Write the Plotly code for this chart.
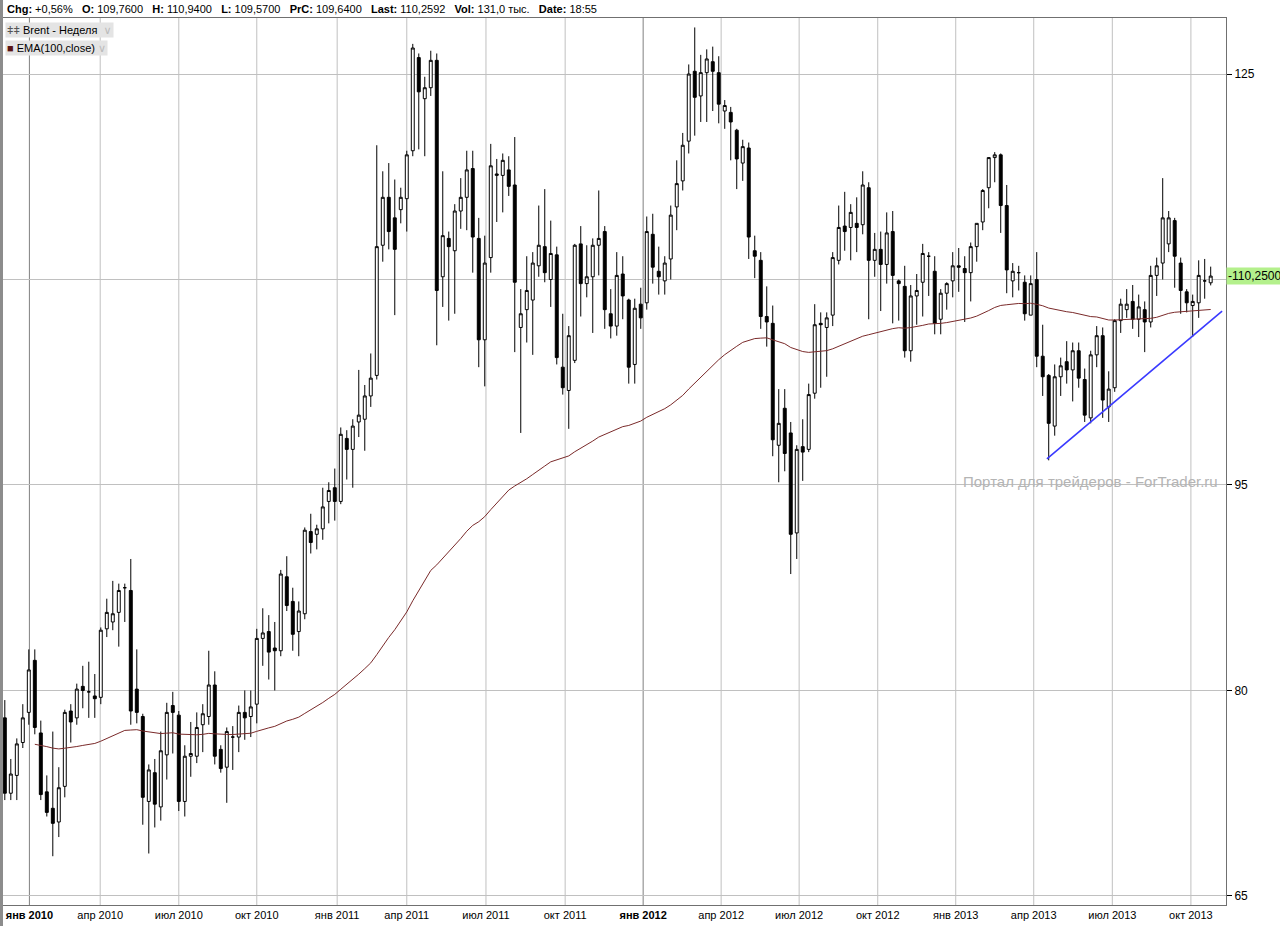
import plotly.graph_objects as go

opens = [78.0,72.5,73.8,76.2,78.4,82.2,76.9,72.6,71.4,70.4,
73.0,78.5,78.0,80.3,79.9,79.6,79.5,84.5,85.0,85.7,
87.5,87.3,80.1,78.1,71.9,74.0,71.5,75.3,78.9,78.2,
71.9,75.2,75.2,77.5,78.1,80.4,75.7,74.4,76.6,76.6,
78.4,78.1,79.0,83.8,84.3,83.1,82.9,88.3,86.5,84.3,
85.6,91.6,91.4,91.8,93.8,94.8,93.8,98.4,97.6,99.6,
99.8,101.5,103.0,112.5,116.0,114.5,115.1,115.9,119.4,126.2,
123.2,124.0,126.0,110.2,113.0,112.1,115.0,116.0,118.1,113.0,
105.6,111.6,117.6,117.6,118.0,116.9,106.5,107.8,108.5,111.0,
112.4,110.0,111.8,103.6,101.9,104.1,112.6,109.7,110.2,112.5,
113.5,107.5,106.6,110.4,108.5,103.8,108.2,108.3,113.3,110.6,
109.9,111.5,115.3,117.2,120.1,125.2,123.4,125.1,125.9,125.1,
122.3,122.2,120.9,118.5,119.6,112.1,111.4,107.3,106.8,97.9,
100.6,98.8,91.5,97.8,97.6,101.7,106.8,106.5,107.4,111.4,
113.9,113.8,114.1,114.0,116.7,111.4,112.2,111.1,113.5,109.9,
109.5,104.8,108.8,109.8,111.7,110.6,107.1,109.0,109.9,111.0,
110.8,110.5,112.4,114.2,116.7,118.9,119.1,115.4,109.9,110.5,
109.8,107.4,110.0,104.4,103.0,99.3,102.9,104.0,103.4,104.8,
102.7,99.9,104.5,105.9,100.7,102.1,107.0,107.8,108.4,107.1,
107.8,106.9,110.3,111.2,112.6,114.3,111.2,109.1,108.1,108.3,
109.9,109.76]

closes = [72.5,73.9,76.1,78.0,81.5,77.3,72.4,71.1,70.3,72.9,
78.4,77.7,80.1,80.0,79.9,79.4,84.4,85.7,85.6,87.3,
87.5,78.5,78.4,72.2,74.2,71.7,75.6,78.4,78.4,71.9,
75.2,75.4,77.3,78.3,80.4,75.2,74.3,77.0,76.6,78.4,
78.0,78.8,83.8,84.2,82.8,82.9,88.5,86.2,84.1,85.8,
91.7,90.8,91.8,93.4,94.6,93.8,98.7,97.6,99.3,100.1,
101.5,102.8,112.4,116.0,113.5,112.2,116.0,119.1,126.9,123.7,
124.0,126.0,109.2,113.2,112.4,115.0,116.0,118.0,113.1,105.6,
111.2,118.3,117.7,118.7,116.8,109.8,107.5,109.2,111.2,112.5,
110.5,111.9,104.3,102.1,105.9,112.5,109.7,110.2,112.5,113.0,
107.8,106.6,110.3,108.8,103.6,107.9,107.2,113.5,110.9,110.2,
111.2,114.7,117.0,119.8,125.0,123.3,125.1,126.1,125.2,122.8,
122.7,121.5,118.8,119.7,113.1,111.7,107.3,106.9,98.3,99.5,
97.3,91.4,97.6,97.4,101.6,106.7,106.7,107.2,111.6,113.8,
113.5,114.9,113.8,116.9,111.4,112.2,111.1,113.4,110.3,109.7,
104.8,108.8,109.2,111.9,111.7,106.8,109.0,109.7,111.0,110.9,
110.5,112.4,114.1,116.5,118.9,119.1,115.4,110.7,110.6,110.5,
107.5,109.7,104.4,102.9,99.5,102.9,103.7,103.4,104.8,102.8,
100.1,104.5,105.9,101.2,102.0,107.0,108.2,108.2,107.1,108.0,
106.9,110.3,111.0,114.5,114.5,111.7,109.2,108.3,108.4,110.3,
109.9,110.25]

highs = [79.3,75.0,76.5,79.0,83.0,83.0,77.8,73.8,77.0,74.4,
78.6,79.0,80.5,81.8,82.1,81.2,84.6,86.7,88.0,87.8,
87.8,89.6,83.0,78.3,74.6,75.0,77.0,79.1,79.9,78.5,
76.0,77.7,78.4,79.0,82.9,81.4,76.0,77.3,77.4,78.9,
80.0,80.0,84.5,86.0,85.5,85.0,88.8,89.8,87.5,86.5,
91.9,92.9,92.1,94.8,95.2,96.2,99.2,99.0,99.8,103.4,
102.3,104.6,119.8,117.9,118.5,117.3,116.7,119.4,127.2,126.5,
124.8,126.7,126.5,117.9,113.5,115.5,117.4,119.4,119.4,114.5,
113.2,119.9,118.8,119.2,119.0,120.4,109.3,111.7,112.0,115.4,
116.6,114.3,112.4,107.5,106.6,112.6,113.9,112.5,113.0,116.5,
113.9,109.3,112.0,111.7,108.6,108.6,109.4,114.6,114.8,112.4,
111.7,115.4,118.7,120.7,125.7,128.4,126.4,126.8,127.0,126.3,
123.1,122.6,121.0,120.2,120.0,113.2,112.0,109.5,108.1,102.0,
102.0,99.6,97.9,99.8,102.4,108.2,107.6,107.6,112.0,115.4,
116.4,115.5,116.0,117.9,117.1,113.4,113.5,114.9,115.0,110.0,
111.0,109.6,110.4,112.6,112.0,111.7,109.3,109.8,112.0,112.3,
111.7,112.7,114.1,116.6,118.9,119.3,119.2,116.9,111.2,111.0,
110.3,110.3,112.0,106.7,103.1,103.8,104.3,105.5,105.4,105.4,
103.5,104.8,106.6,106.5,103.3,107.1,108.6,109.3,109.6,108.9,
108.4,111.0,111.6,117.4,115.0,114.5,111.6,109.3,108.9,111.4,
111.5,110.94]

lows = [72.0,72.0,72.0,75.8,77.5,76.8,72.0,70.8,67.9,69.3,
72.2,76.2,77.5,78.7,78.0,78.0,79.0,83.9,84.4,83.2,
85.0,77.5,77.6,70.2,68.1,70.0,70.5,73.5,75.4,71.2,
70.8,73.7,74.7,75.5,77.5,74.6,74.0,71.8,74.2,75.5,
76.4,76.6,77.6,81.8,80.8,80.0,82.5,85.8,82.9,82.5,
85.2,90.0,90.3,91.0,92.2,92.4,93.6,95.4,94.8,98.5,
97.5,100.7,102.7,111.3,112.2,107.4,114.1,113.5,119.0,119.5,
119.0,123.4,105.2,108.0,107.0,107.5,113.7,113.6,110.5,103.6,
102.2,110.5,114.2,114.9,116.1,104.7,98.8,105.4,104.5,110.2,
109.8,108.0,103.8,101.6,99.1,103.9,107.3,108.7,106.1,110.3,
106.4,105.7,105.9,107.1,102.4,102.4,106.4,107.8,109.7,108.9,
108.9,110.0,113.6,116.5,119.2,120.5,121.5,121.5,122.3,121.4,
121.0,118.7,116.6,117.2,111.5,110.1,106.4,105.1,97.1,95.2,
96.0,88.5,89.6,95.3,97.4,101.3,102.1,102.9,106.6,111.1,
112.1,111.4,112.0,113.3,107.1,110.2,107.7,109.7,106.8,107.0,
104.3,104.0,106.7,107.3,108.8,106.0,106.0,107.8,108.7,109.1,
106.9,108.4,111.3,113.6,115.2,117.1,113.4,109.0,108.7,109.2,
107.0,107.4,103.6,101.5,96.8,98.6,101.5,102.4,101.1,102.1,
99.6,99.5,103.6,99.9,99.6,101.8,106.1,107.2,106.4,105.8,
104.7,106.5,108.8,110.0,112.0,109.4,107.5,107.6,105.8,107.2,
108.6,109.57]

tick_labels = ["<b>янв 2010</b>", "апр 2010", "июл 2010", "окт 2010", "янв 2011", "апр 2011",
               "июл 2011", "окт 2011", "<b>янв 2012</b>", "апр 2012", "июл 2012", "окт 2012",
               "янв 2013", "апр 2013", "июл 2013", "окт 2013"]
tick_pos = [4.1, 15.9, 29.0, 42.0, 55.4, 67.0, 80.2, 93.4, 106.4, 119.4, 132.4, 145.5,
            158.5, 171.5, 184.6, 197.7]
price_ticks = [65, 80, 95, 110, 125]
price_tick_text = ["65", "80", "95", "", "125"]
ema_period = 100
ema_seed = 76.0
trend_x = [173.7, 202.9]
trend_y = [96.9, 107.7]
last_price = 110.25

idx = list(range(len(closes)))
alpha = 2 / (ema_period + 1)
ema = []
e = ema_seed
for c in closes:
    e = e + alpha * (c - e)
    ema.append(e)

fig = go.Figure()
fig.add_trace(go.Scatter(x=idx[5:], y=ema[5:], mode="lines",
                         line=dict(color="#7a2a2a", width=1), hoverinfo="skip"))
fig.add_trace(go.Candlestick(
    x=idx, open=opens, high=highs, low=lows, close=closes,
    increasing=dict(fillcolor="white", line=dict(color="black", width=1)),
    decreasing=dict(fillcolor="black", line=dict(color="black", width=1)),
    whiskerwidth=0))
fig.add_trace(go.Scatter(x=trend_x, y=trend_y, mode="lines",
                         line=dict(color="#3a3aff", width=1.6), hoverinfo="skip"))

shapes = []
for p, lbl in zip(tick_pos, tick_labels):
    dark = lbl.startswith("<b>")
    shapes.append(dict(type="line", xref="x", yref="paper", x0=p, x1=p, y0=0, y1=1,
                       line=dict(color="#808080" if dark else "#c0c0c0", width=1), layer="below"))
shapes.append(dict(type="rect", xref="paper", yref="paper", x0=-3/1223, x1=0, y0=-0.05, y1=1.03,
                   fillcolor="#8c8c8c", line=dict(width=0)))

fig.update_layout(
    width=1280, height=926, margin=dict(l=3, r=54, t=18, b=21),
    paper_bgcolor="white", plot_bgcolor="white", showlegend=False,
    font=dict(family="Liberation Sans, DejaVu Sans", size=11, color="black"),
    shapes=shapes,
    xaxis=dict(range=[-0.3, 203.55], tickvals=tick_pos, ticktext=tick_labels, showgrid=False,
               rangeslider=dict(visible=False), ticks="", showline=True, linecolor="#707070",
               mirror=True, zeroline=False, tickfont=dict(size=11)),
    yaxis=dict(range=[64.34, 129.09], tickvals=price_ticks, ticktext=price_tick_text,
               side="right", showgrid=True,
               gridcolor="#c0c0c0", gridwidth=1, ticks="outside", ticklen=5, tickcolor="black",
               showline=True, linecolor="#707070", mirror=True, zeroline=False,
               tickfont=dict(size=12)),
)

header = ("<b>Chg:</b> +0,56%   <b>O:</b> 109,7600   <b>H:</b> 110,9400   <b>L:</b> 109,5700   "
          "<b>PrC:</b> 109,6400   <b>Last:</b> 110,2592   <b>Vol:</b> 131,0 тыс.   <b>Date:</b> 18:55")
fig.add_annotation(xref="paper", yref="paper", x=0.002, y=1, xanchor="left", yanchor="bottom",
                   yshift=1, text=header, showarrow=False, font=dict(size=11))
fig.add_annotation(xref="paper", yref="paper", x=0.0015, y=0.9955, xanchor="left", yanchor="top",
                   text="<span style='color:#555'>ǂǂ</span> Brent - Неделя  <span style='color:#bbb'>∨</span>",
                   showarrow=False, bgcolor="#e4e4e4", font=dict(size=11), borderpad=1)
fig.add_annotation(xref="paper", yref="paper", x=0.0015, y=0.9755, xanchor="left", yanchor="top",
                   text="<span style='color:#5a1414'>■</span> EMA(100,close) <span style='color:#bbb'>∨</span>",
                   showarrow=False, bgcolor="#e4e4e4", font=dict(size=11), borderpad=1)
fig.add_annotation(xref="paper", yref="y", x=1, y=last_price, xanchor="left", yanchor="middle",
                   text="-110,2500", showarrow=False, bgcolor="#b4f08c", font=dict(size=12),
                   borderpad=1)
fig.add_annotation(xref="paper", yref="paper", x=0.995, y=0.477, xanchor="right", yanchor="middle",
                   text="Портал для трейдеров - ForTrader.ru", showarrow=False,
                   font=dict(size=15, color="#b4b4b4"))

fig.write_html("out.html", config={"displayModeBar": False})
with open("out.html", encoding="utf-8") as f:
    html = f.read()
html = html.replace("<head>", "<head><style>html,body{margin:0;padding:0;overflow:hidden}</style>", 1)
with open("out.html", "w", encoding="utf-8") as f:
    f.write(html)
